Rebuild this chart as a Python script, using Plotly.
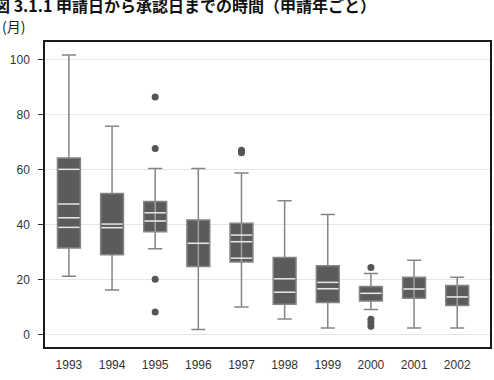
import plotly.graph_objects as go

# ---------------- data ----------------
years = ["1993", "1994", "1995", "1996", "1997", "1998", "1999", "2000", "2001", "2002"]
lower_fence = [21.1, 16.1, 31.1, 1.8, 9.9, 5.6, 2.3, 9.0, 2.3, 2.3]
q1 = [31.4, 28.9, 37.3, 24.7, 26.3, 10.9, 11.6, 12.1, 13.1, 10.5]
medians = [42.4, 38.8, 41.2, 33.1, 33.7, 15.3, 16.6, 14.9, 16.5, 13.6]
q3 = [64.1, 51.2, 48.3, 41.6, 40.4, 27.9, 24.9, 17.4, 20.8, 17.8]
upper_fence = [101.6, 75.7, 60.3, 60.3, 58.7, 48.6, 43.6, 22.1, 26.9, 20.8]
# additional white reference lines drawn inside the boxes
inner_lines = [[60.0, 47.4, 38.9], [40.1], [44.2], [], [36.1, 27.7], [20.2], [18.9], [], [], []]
# years where the whisker line is visible through the box
whisker_through = [False, False, True, True, True, False, False, False, True, True]
outlier_years = ["1995", "1995", "1995", "1995", "1997", "1997", "2000", "2000", "2000", "2000"]
outlier_values = [86.3, 67.6, 20.0, 8.1, 66.9, 66.0, 24.3, 5.5, 4.2, 2.9]
y_ticks = [0, 20, 40, 60, 80, 100]

title_text = "図 3.1.1 申請日から承認日までの時間（申請年ごと）"
unit_text = "(月)"

# ---------------- style ----------------
BOX_W = 0.53
BOX_FILL = "#5b5b5b"
WHISK = "#858585"
INNER = "#e6e6e6"

pos = list(range(len(years)))
idx = {y: i for i, y in enumerate(years)}

fig = go.Figure()

fig.add_trace(go.Box(
    x=pos, q1=q1, median=medians, q3=q3,
    lowerfence=lower_fence, upperfence=upper_fence,
    width=BOX_W, whiskerwidth=0.62,
    fillcolor=BOX_FILL, line=dict(color=WHISK, width=1.5),
    boxpoints=False, showlegend=False, hoverinfo="skip",
))

# vertical whisker line shown through the box
vx, vy = [], []
for i, flag in enumerate(whisker_through):
    if flag:
        vx += [pos[i], pos[i], None]
        vy += [q1[i], q3[i], None]
fig.add_trace(go.Scatter(x=vx, y=vy, mode="lines",
                         line=dict(color="#a0a0a0", width=1.5),
                         showlegend=False, hoverinfo="skip"))

# white median + inner lines
hx, hy = [], []
for i in pos:
    for v in [medians[i]] + inner_lines[i]:
        hx += [pos[i] - BOX_W / 2 + 0.02, pos[i] + BOX_W / 2 - 0.02, None]
        hy += [v, v, None]
fig.add_trace(go.Scatter(x=hx, y=hy, mode="lines",
                         line=dict(color=INNER, width=1.5),
                         showlegend=False, hoverinfo="skip"))

# outliers
fig.add_trace(go.Scatter(
    x=[idx[y] for y in outlier_years], y=outlier_values, mode="markers",
    marker=dict(color="#555555", size=7),
    showlegend=False, hoverinfo="skip"))

fig.update_layout(
    width=494, height=380,
    margin=dict(l=45, r=2, t=42, b=33),
    paper_bgcolor="white", plot_bgcolor="white",
    font=dict(family="Liberation Sans, Arial, sans-serif", size=12, color="#333333"),
    xaxis=dict(
        range=[-0.554, 9.76], tickmode="array", tickvals=pos, ticktext=years,
        showgrid=False, zeroline=False, showline=True, mirror=True,
        linecolor="#1a1a1a", linewidth=1.5, ticks="", ticklabelstandoff=6,
    ),
    yaxis=dict(
        range=[-4.6, 106.3], tickmode="array", tickvals=y_ticks,
        showgrid=True, gridcolor="#e6e6e6", gridwidth=1, zeroline=False,
        showline=True, mirror=True, linecolor="#1a1a1a", linewidth=1.5,
        ticks="outside", ticklen=5, tickcolor="#333333", ticklabelstandoff=6,
    ),
    annotations=[
        dict(text="<b>" + title_text + "</b>", xref="paper", yref="paper",
             x=0.748, y=1.121, xanchor="right", yanchor="middle", showarrow=False,
             font=dict(family="Noto Sans CJK JP", size=16, color="#111111")),
        dict(text=unit_text, xref="paper", yref="paper",
             x=-0.1007, y=1.051, xanchor="left", yanchor="middle", showarrow=False,
             font=dict(family="Noto Sans CJK JP", size=14, color="#222222")),
    ],
)

fig.write_html("out.html")
